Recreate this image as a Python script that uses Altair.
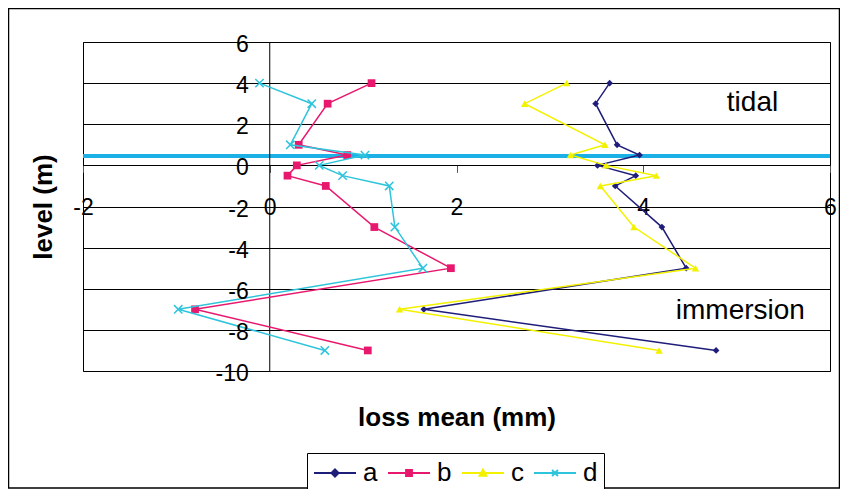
import altair as alt
import pandas as pd

# ---- data ----
levels = [4, 3, 1, 0.5, 0, -0.5, -1, -3, -5, -7, -9]
loss_a = [3.64, 3.49, 3.72, 3.96, 3.51, 3.92, 3.70, 4.20, 4.46, 1.65, 4.78]
loss_b = [1.09, 0.62, 0.31, 0.83, 0.29, 0.19, 0.60, 1.12, 1.94, -0.80, 1.05]
loss_c = [3.18, 2.73, 3.59, 3.22, 3.60, 4.14, 3.54, 3.90, 4.56, 1.39, 4.17]
loss_d = [-0.11, 0.45, 0.22, 1.02, 0.53, 0.78, 1.28, 1.34, 1.64, -0.98, 0.59]

series_names = ["a", "b", "c", "d"]
series_values = [loss_a, loss_b, loss_c, loss_d]

x_ticks = [-2, 0, 2, 4, 6]
y_ticks = [6, 4, 2, 0, -2, -4, -6, -8, -10]
y_labels = ["6", "4", "2", "0", "-2", "-4", "-6", "-8", "-10"]
sea_level = [0.45]
note_text = ["tidal", "immersion"]
note_x = [5.17, 5.04]
note_y = [2.65, -7.48]

# ---- styles ----
FONT = "Liberation Sans"
series_colors = ["#1f1d7a", "#e8186e", "#f2f200", "#2ec4dc"]
marker_shapes = ["diamond", "square", "triangle-up", "M-1,-1L1,1M-1,1L1,-1"]
marker_sizes = [45, 60, 55, 70]
legend_shapes = [
    "M-1,0H1M0,-0.17L0.17,0L0,0.17L-0.17,0Z",
    "M-1,0H1M-0.14,-0.14H0.14V0.14H-0.14Z",
    "M-1,0H1M0,-0.16L0.16,0.13H-0.16Z",
    "M-1,0H1M-0.14,-0.14L0.14,0.14M-0.14,0.14L0.14,-0.14",
]

rows = []
for name, vals in zip(series_names, series_values):
    for i, (lv, v) in enumerate(zip(levels, vals)):
        rows.append({"series": name, "level": lv, "loss": v, "i": i})
df = pd.DataFrame(rows)

x_scale = alt.Scale(domain=[-2, 6], nice=False, zero=False)
y_scale = alt.Scale(domain=[-10, 6], nice=False, zero=False)

x_axis = alt.Axis(
    values=x_ticks, orient="bottom", offset=-205.6, domain=False, grid=False,
    ticks=True, tickSize=7, tickColor="#555555", labelFont=FONT, labelFontSize=23,
    labelColor="black", labelPadding=24, labelFlush=False, labelOverlap=False,
    labelExpr="'' + datum.value",
    title="loss mean (mm)", titleFont=FONT, titleFontSize=26, titleFontWeight="bold",
    titleColor="black", titleY=252, titleBaseline="middle",
)
y_axis = alt.Axis(
    values=y_ticks, orient="left", grid=True, gridColor="black", gridOpacity=1,
    gridWidth=1, labels=False, ticks=False, domain=False,
    title="level (m)", titleFont=FONT, titleFontSize=26, titleFontWeight="bold",
    titleColor="black", titleX=-40, titleY=164.5, titleAngle=270,
    titleAlign="center", titleBaseline="middle",
)

leg = alt.Legend(
    orient="none", legendX=224, legendY=411, direction="horizontal", columns=4,
    title=None, labelFont=FONT, labelFontSize=26, labelColor="black",
    symbolSize=1764, symbolStrokeWidth=2, symbolOpacity=1, clipHeight=28,
    labelOffset=6, columnPadding=9, padding=6, strokeColor="black",
    fillColor="white",
)

base = alt.Chart(df)

legend_layer = base.mark_point(opacity=0, filled=False).encode(
    x=alt.X("loss:Q", scale=x_scale, axis=x_axis),
    y=alt.Y("level:Q", scale=y_scale, axis=y_axis),
    fill=alt.Fill("series:N", scale=alt.Scale(domain=series_names, range=series_colors), legend=leg),
    stroke=alt.Stroke("series:N", scale=alt.Scale(domain=series_names, range=series_colors), legend=leg),
    shape=alt.Shape("series:N", scale=alt.Scale(domain=series_names, range=legend_shapes), legend=leg),
)

sea_rule = alt.Chart(pd.DataFrame({"lvl": sea_level})).mark_rule(
    color="#1bb1e6", strokeWidth=4
).encode(y=alt.Y("lvl:Q", scale=y_scale))

zero_rule = alt.Chart(pd.DataFrame({"x0": [0]})).mark_rule(
    color="black", strokeWidth=1
).encode(x=alt.X("x0:Q", scale=x_scale))

series_layers = []
for name, color, shape, size in zip(series_names, series_colors, marker_shapes, marker_sizes):
    filled = name != "d"
    pt = alt.OverlayMarkDef(shape=shape, size=size, filled=filled, color=color,
                            strokeWidth=1.5, opacity=1)
    series_layers.append(
        base.transform_filter(alt.datum.series == name)
        .mark_line(color=color, strokeWidth=1.5, point=pt)
        .encode(
            x=alt.X("loss:Q", scale=x_scale),
            y=alt.Y("level:Q", scale=y_scale),
            order=alt.Order("i:Q"),
        )
    )

ylab_layer = alt.Chart(pd.DataFrame({"t": y_ticks, "lab": y_labels})).mark_text(
    align="right", baseline="middle", dx=-21, dy=3, font=FONT, fontSize=23, color="black"
).encode(
    x=alt.datum(0),
    y=alt.Y("t:Q", scale=y_scale),
    text=alt.Text("lab:N"),
)

notes_layer = alt.Chart(pd.DataFrame({"nx": note_x, "ny": note_y, "txt": note_text})).mark_text(
    align="center", baseline="alphabetic", font=FONT, fontSize=28, color="black"
).encode(
    x=alt.X("nx:Q", scale=x_scale),
    y=alt.Y("ny:Q", scale=y_scale),
    text=alt.Text("txt:N"),
)

frame = alt.Chart(pd.DataFrame({"k": [0]})).mark_rect(
    fill="transparent", stroke="black", strokeWidth=1.5
).encode(
    x=alt.value(-74.5), x2=alt.value(756.5), y=alt.value(-33.5), y2=alt.value(446)
)

chart = alt.layer(
    legend_layer, sea_rule, zero_rule, *series_layers, ylab_layer, notes_layer, frame
).properties(
    width=747, height=329,
    autosize=alt.AutoSizeParams(type="none"),
    padding={"left": 75, "top": 34, "right": 10, "bottom": 118},
    background="white",
).configure_view(stroke="black", strokeWidth=1)

chart.save("out.html", embed_options={"renderer": "svg", "actions": False})
